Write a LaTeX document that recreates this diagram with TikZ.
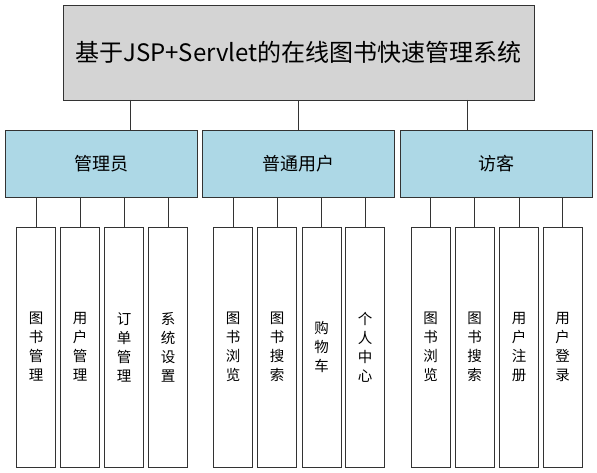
\documentclass[tikz,border=0pt]{standalone}
\usepackage{fontspec}
\setmainfont{Noto Sans CJK SC}
\usepackage{tikz}
\usetikzlibrary{positioning,calc}

\begin{document}
\begin{tikzpicture}[x=1pt, y=-1pt,
    sysbox/.style={rectangle, draw=black!80, line width=0.8pt, fill=black!17, minimum width=471pt, minimum height=95pt, align=center, font=\fontsize{24}{28}\selectfont},
    rolebox/.style={rectangle, draw=black!80, line width=0.8pt, fill={rgb,255:red,173;green,216;blue,230}, minimum width=192pt, minimum height=67pt, align=center, font=\fontsize{18}{22}\selectfont},
    funcbox/.style={rectangle, draw=black!80, line width=0.8pt, fill=white, minimum width=39pt, minimum height=240pt, inner sep=0pt, align=center, font=\fontsize{14.5}{19}\selectfont},
    conn/.style={draw=black!80, line width=0.8pt}
]
\useasboundingbox (0,0) rectangle (597,473);

% System
\node[sysbox] (system) at (298.5, 52.5) {基于JSP+Servlet的在线图书快速管理系统};

% Roles
\node[rolebox] (admin) at (101, 164) {管理员};
\node[rolebox] (member) at (298.5, 164) {普通用户};
\node[rolebox] (guest) at (496, 164) {访客};

% Admin functions
\node[funcbox] (bookmgr) at (36, 347) {图\\书\\管\\理};
\node[funcbox] (usermgr) at (80, 347) {用\\户\\管\\理};
\node[funcbox] (ordermgr) at (124, 347) {订\\单\\管\\理};
\node[funcbox] (settings) at (168, 347) {系\\统\\设\\置};

% Member functions
\node[funcbox] (mbrowse) at (233, 347) {图\\书\\浏\\览};
\node[funcbox] (msearch) at (277, 347) {图\\书\\搜\\索};
\node[funcbox] (cart) at (321.5, 347) {购\\物\\车};
\node[funcbox] (center) at (365, 347) {个\\人\\中\\心};

% Guest functions
\node[funcbox] (gbrowse) at (430.5, 347) {图\\书\\浏\\览};
\node[funcbox] (gsearch) at (474.5, 347) {图\\书\\搜\\索};
\node[funcbox] (register) at (519, 347) {用\\户\\注\\册};
\node[funcbox] (login) at (562.5, 347) {用\\户\\登\\录};

% Taps under the system box
\coordinate (tapadmin) at (130, 100);
\coordinate (tapguest) at (467, 100);

% Connectors
\draw[conn] (tapadmin) -- (tapadmin |- admin.north);
\draw[conn] (system.south) -- (member.north);
\draw[conn] (tapguest) -- (tapguest |- guest.north);

\draw[conn] (bookmgr.north |- admin.south) -- (bookmgr.north);
\draw[conn] (usermgr.north |- admin.south) -- (usermgr.north);
\draw[conn] (ordermgr.north |- admin.south) -- (ordermgr.north);
\draw[conn] (settings.north |- admin.south) -- (settings.north);

\draw[conn] (mbrowse.north |- member.south) -- (mbrowse.north);
\draw[conn] (msearch.north |- member.south) -- (msearch.north);
\draw[conn] (cart.north |- member.south) -- (cart.north);
\draw[conn] (center.north |- member.south) -- (center.north);

\draw[conn] (gbrowse.north |- guest.south) -- (gbrowse.north);
\draw[conn] (gsearch.north |- guest.south) -- (gsearch.north);
\draw[conn] (register.north |- guest.south) -- (register.north);
\draw[conn] (login.north |- guest.south) -- (login.north);

\end{tikzpicture}
\end{document}
